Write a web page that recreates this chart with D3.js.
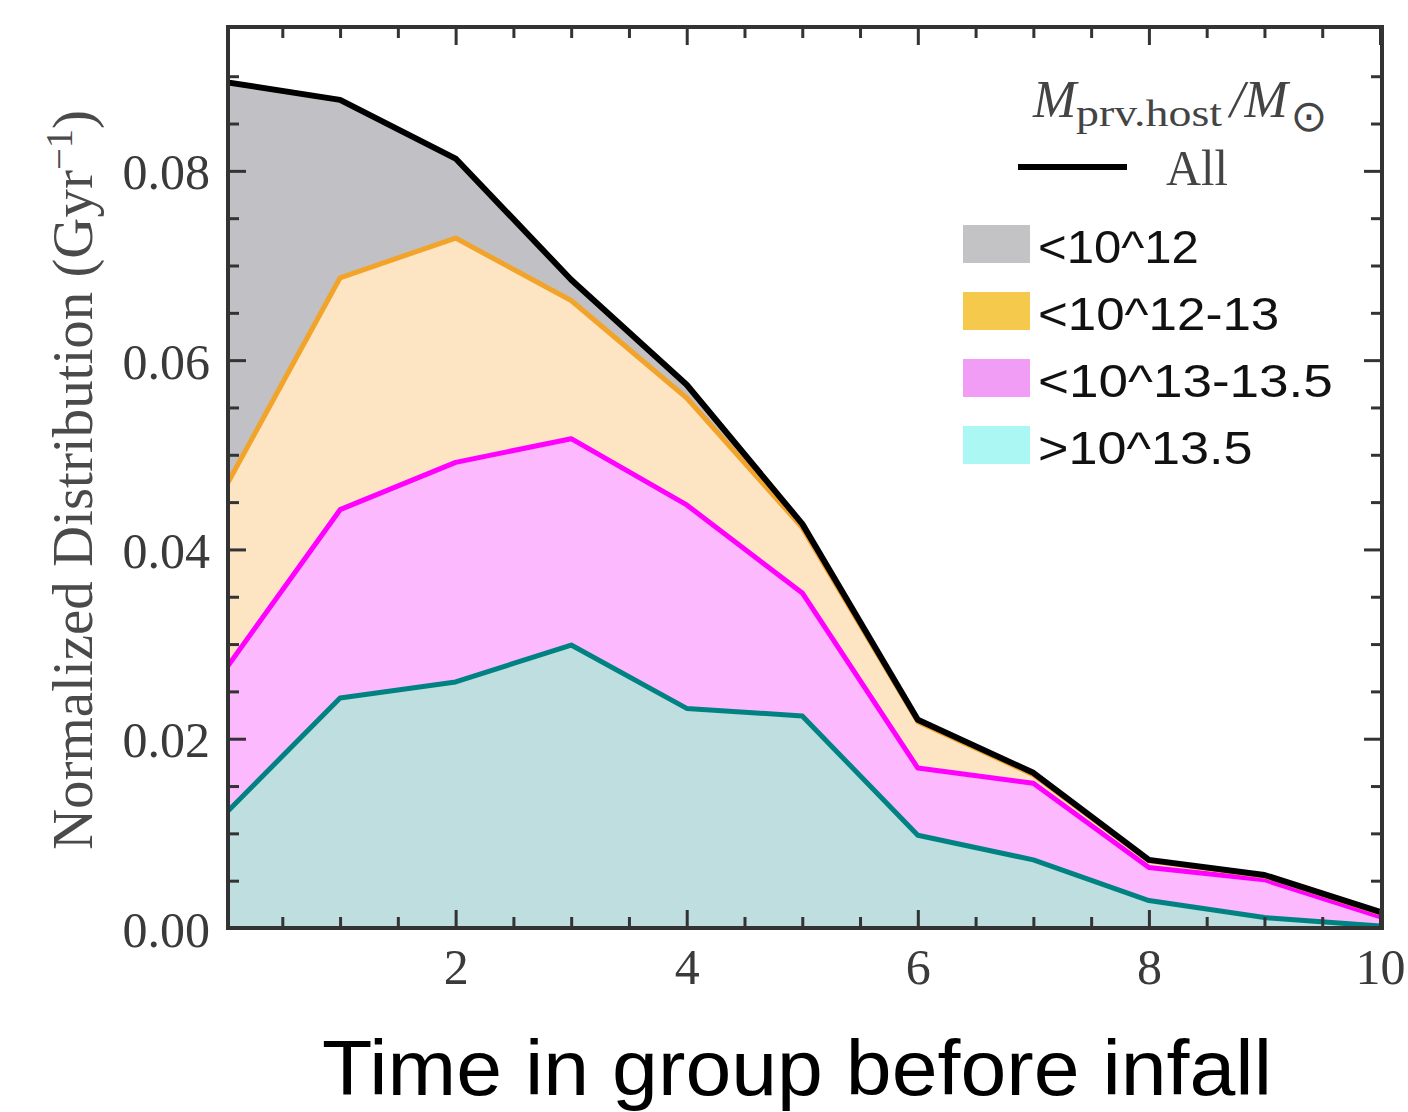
<!DOCTYPE html>
<html>
<head>
<meta charset="utf-8">
<script src="https://cdn.jsdelivr.net/npm/d3@7"></script>
<style>
  body { margin: 0; background: #fff; }
  svg { display: block; }
</style>
</head>
<body>
<svg id="chart"></svg>
<script>
// time in group before infall (Gyr)
const times = [0, 1, 2, 3, 4, 5, 6, 7, 8, 9, 10];

// normalized distribution per host mass bin (Gyr^-1), stacked bottom to top
const highMass = [0.0120, 0.0243, 0.0260, 0.0299, 0.0232, 0.0224, 0.0098, 0.0072, 0.0029, 0.0011, 0.0002];
const groupMass = [0.0152, 0.0199, 0.0232, 0.0218, 0.0215, 0.0130, 0.0071, 0.0081, 0.0035, 0.0040, 0.0010];
const midMass = [0.0192, 0.0245, 0.0237, 0.0146, 0.0113, 0.0069, 0.0049, 0.0009, 0.0007, 0.0004, 0.0004];
const lowMass = [0.0430, 0.0188, 0.0084, 0.0022, 0.0014, 0.0004, 0.0002, 0.0002, 0.0001, 0.0001, 0.0001];

const xTicks = [2, 4, 6, 8, 10];
const yTicks = [0, 0.02, 0.04, 0.06, 0.08];

const legendLabels = ['<10^12', '<10^12-13', '<10^13-13.5', '>10^13.5'];

const width = 1408,
      height = 1112,
      plot = { left: 228, right: 1382, top: 27, bottom: 928 };

const keys = ['high', 'group', 'mid', 'low'];
const fills = { high: '#bfdee0', group: '#fdb9fd', mid: '#fde4c3', low: '#c1c0c4' };
const strokes = { high: '#008282', group: '#ff00ff', mid: '#f2a42a' };
const swatches = ['#c3c3c5', '#f5c94c', '#f19cf5', '#abf7f4'];

const table = times.map((t, i) => ({
  time: t,
  high: highMass[i],
  group: groupMass[i],
  mid: midMass[i],
  low: lowMass[i]
}));

const series = d3.stack().keys(keys)(table);

const $svg = d3.select('#chart')
  .attr('width', width)
  .attr('height', height);

$svg.append('rect')
  .attr('width', width)
  .attr('height', height)
  .attr('fill', '#fff');

const x = d3.scaleLinear().domain([0.03, 10]).range([plot.left, plot.right - 2]);
const y = d3.scaleLinear().domain([0, 0.0952]).range([plot.bottom, plot.top]);

$svg.append('clipPath')
  .attr('id', 'plot-clip')
  .append('rect')
    .attr('x', plot.left)
    .attr('y', plot.top)
    .attr('width', plot.right - plot.left)
    .attr('height', plot.bottom - plot.top);

const $plot = $svg.append('g').attr('clip-path', 'url(#plot-clip)');

const area = d3.area()
  .x((d) => x(d.data.time))
  .y0((d) => y(d[0]))
  .y1((d) => y(d[1]));

const topLine = d3.line()
  .x((d) => x(d.data.time))
  .y((d) => y(d[1]));

$plot.selectAll('.layer')
  .data(series)
  .enter()
  .append('path')
    .classed('layer', true)
    .attr('d', area)
    .attr('fill', (d) => fills[d.key]);

$plot.selectAll('.edge')
  .data(series.filter((d) => d.key !== 'low'))
  .enter()
  .append('path')
    .classed('edge', true)
    .attr('d', topLine)
    .attr('fill', 'none')
    .attr('stroke', (d) => strokes[d.key])
    .attr('stroke-width', 5)
    .attr('stroke-linejoin', 'round');

// "All" = top of the whole stack
$plot.append('path')
  .datum(series[series.length - 1])
  .attr('d', topLine)
  .attr('fill', 'none')
  .attr('stroke', '#000')
  .attr('stroke-width', 6)
  .attr('stroke-linejoin', 'round');

// axes, ticks pointing inward
const minorX = d3.range(0.5, 10, 0.5).filter((v) => v % 2 !== 0);
const minorY = d3.range(0.005, 0.095, 0.005).filter((v) => Math.abs(v / 0.02 - Math.round(v / 0.02)) > 1e-6);

function styleAxis(g) {
  g.select('.domain').remove();
  g.selectAll('.tick line').attr('stroke', '#333').attr('stroke-width', 3);
  g.selectAll('.tick text')
    .attr('fill', '#3a3a3a')
    .style('font-family', '"Liberation Serif", "Times New Roman", serif')
    .style('font-size', '50px');
}

$svg.append('g')
  .attr('transform', `translate(0,${plot.bottom})`)
  .call(d3.axisBottom(x).tickValues(xTicks).tickSize(-18).tickPadding(20).tickFormat(d3.format('d')))
  .call(styleAxis)
  .call((g) => g.selectAll('.tick text').attr('dy', '0.71em'));

$svg.append('g')
  .attr('transform', `translate(0,${plot.bottom})`)
  .call(d3.axisBottom(x).tickValues(minorX).tickSize(-11).tickFormat(''))
  .call(styleAxis);

$svg.append('g')
  .attr('transform', `translate(0,${plot.top})`)
  .call(d3.axisTop(x).tickValues(xTicks).tickSize(-18).tickFormat(''))
  .call(styleAxis);

$svg.append('g')
  .attr('transform', `translate(0,${plot.top})`)
  .call(d3.axisTop(x).tickValues(minorX).tickSize(-11).tickFormat(''))
  .call(styleAxis);

$svg.append('g')
  .attr('transform', `translate(${plot.left},0)`)
  .call(d3.axisLeft(y).tickValues(yTicks).tickSize(-18).tickPadding(18).tickFormat(d3.format('.2f')))
  .call(styleAxis)
  .call((g) => g.selectAll('.tick text').attr('dy', '0.36em'));

$svg.append('g')
  .attr('transform', `translate(${plot.left},0)`)
  .call(d3.axisLeft(y).tickValues(minorY).tickSize(-11).tickFormat(''))
  .call(styleAxis);

$svg.append('g')
  .attr('transform', `translate(${plot.right},0)`)
  .call(d3.axisRight(y).tickValues(yTicks).tickSize(-18).tickFormat(''))
  .call(styleAxis);

$svg.append('g')
  .attr('transform', `translate(${plot.right},0)`)
  .call(d3.axisRight(y).tickValues(minorY).tickSize(-11).tickFormat(''))
  .call(styleAxis);

$svg.append('rect')
  .attr('x', plot.left)
  .attr('y', plot.top)
  .attr('width', plot.right - plot.left)
  .attr('height', plot.bottom - plot.top)
  .attr('fill', 'none')
  .attr('stroke', '#333')
  .attr('stroke-width', 4);

// axis titles
$svg.append('text')
  .attr('x', 797)
  .attr('y', 1095)
  .attr('text-anchor', 'middle')
  .attr('textLength', 950)
  .attr('lengthAdjust', 'spacingAndGlyphs')
  .style('font-family', '"Liberation Sans", Arial, sans-serif')
  .style('font-size', '77px')
  .attr('fill', '#000')
  .text('Time in group before infall');

const $yTitle = $svg.append('text')
  .attr('transform', 'translate(92,480) rotate(-90)')
  .attr('text-anchor', 'middle')
  .attr('textLength', 740)
  .attr('lengthAdjust', 'spacingAndGlyphs')
  .style('font-family', '"Liberation Serif", "Times New Roman", serif')
  .style('font-size', '56px')
  .attr('fill', '#4a4a4a');

$yTitle.append('tspan').text('Normalized Distribution (Gyr');
$yTitle.append('tspan').attr('dy', -20).style('font-size', '38px').text('\u22121');
$yTitle.append('tspan').attr('dy', 20).text(')');

// legend
const $legend = $svg.append('g');
const serif = '"Liberation Serif", "Times New Roman", serif';

$legend.append('text')
  .attr('x', 1033).attr('y', 117)
  .style('font-family', serif).style('font-style', 'italic').style('font-size', '52px')
  .attr('fill', '#444')
  .text('M');

$legend.append('text')
  .attr('x', 1076).attr('y', 126)
  .attr('textLength', 146)
  .attr('lengthAdjust', 'spacingAndGlyphs')
  .style('font-family', serif).style('font-size', '38px')
  .attr('fill', '#444')
  .text('prv.host');

$legend.append('text')
  .attr('x', 1230).attr('y', 117)
  .style('font-family', serif).style('font-style', 'italic').style('font-size', '52px')
  .attr('fill', '#444')
  .text('/M');

$legend.append('text')
  .attr('x', 1309).attr('y', 131)
  .attr('text-anchor', 'middle')
  .style('font-family', '"DejaVu Sans", sans-serif').style('font-size', '44px')
  .attr('fill', '#444')
  .text('\u2299');

$legend.append('line')
  .attr('x1', 1018).attr('x2', 1127)
  .attr('y1', 167).attr('y2', 167)
  .attr('stroke', '#000')
  .attr('stroke-width', 6);

$legend.append('text')
  .attr('x', 1166).attr('y', 185)
  .attr('textLength', 62)
  .attr('lengthAdjust', 'spacingAndGlyphs')
  .style('font-family', serif).style('font-size', '50px')
  .attr('fill', '#444')
  .text('All');

const legendItems = $legend.selectAll('.legend-item')
  .data(legendLabels)
  .enter()
  .append('g')
    .classed('legend-item', true)
    .attr('transform', (d, i) => `translate(963,${225 + i * 67})`);

legendItems.append('rect')
  .attr('width', 67)
  .attr('height', 38)
  .attr('fill', (d, i) => swatches[i]);

legendItems.append('text')
  .attr('x', 75)
  .attr('y', 38)
  .attr('textLength', (d) => d.length * 26.8)
  .attr('lengthAdjust', 'spacingAndGlyphs')
  .style('font-family', '"Liberation Sans", Arial, sans-serif')
  .style('font-size', '47px')
  .attr('fill', '#111')
  .text((d) => d);
</script>
</body>
</html>
